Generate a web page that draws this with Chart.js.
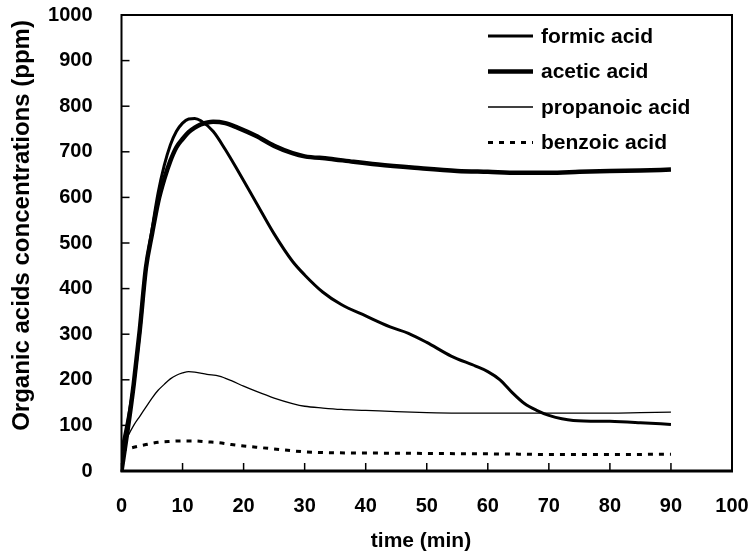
<!DOCTYPE html>
<html>
<head>
<meta charset="utf-8">
<script src="https://cdn.jsdelivr.net/npm/chart.js@4.4.1/dist/chart.umd.min.js"></script>
<style>
  html, body { margin: 0; padding: 0; background: #fff; }
</style>
</head>
<body>
<canvas id="chart" width="752" height="555"></canvas>
<script>
// ── Data (time in min, concentration in ppm) ────────────────────────────────
const formicTime   = [0, 1, 2, 3, 4, 5, 6, 7, 8, 9, 10, 11, 12, 13, 15, 17, 19, 22, 25, 28, 30, 33, 36, 40, 44, 47, 50, 54, 58, 60, 62, 64, 66, 68, 70, 74, 80, 85, 90];
const formicValues = [45, 110, 190, 305, 445, 530, 610, 670, 715, 745, 763, 772, 773, 768, 745, 705, 660, 590, 520, 460, 430, 392, 365, 340, 316, 302, 282, 252, 230, 218, 200, 172, 148, 133, 122, 111, 109, 106, 102];

const aceticTime   = [0, 1, 2, 3, 4, 5, 6, 7, 8, 9, 10, 11, 12, 13, 15, 17, 19, 22, 25, 28, 30, 34, 38, 42, 48, 55, 60, 65, 70, 75, 80, 85, 90];
const aceticValues = [0, 90, 190, 310, 445, 520, 590, 640, 680, 710, 728, 743, 753, 760, 766, 763, 753, 735, 713, 697, 690, 685, 678, 672, 665, 658, 656, 654, 654, 656, 658, 659, 661];

const propTime     = [0, 1, 2, 3, 4, 5, 6, 7, 8, 9, 10, 11, 12, 14, 16, 18, 20, 22, 25, 28, 30, 33, 36, 40, 45, 50, 55, 60, 70, 80, 85, 90];
const propValues   = [45, 75, 100, 120, 140, 160, 177, 190, 202, 210, 215, 218, 217, 212, 208, 198, 186, 175, 160, 148, 142, 138, 135, 133, 130, 128, 127, 127, 127, 127, 128, 129];

const benzTime     = [0, 2, 4, 6, 8, 10, 12, 14, 16, 18, 20, 23, 26, 30, 35, 45, 55, 65, 70, 80, 90];
const benzValues   = [45, 52, 58, 63, 65, 66, 66, 64, 62, 58, 55, 51, 47, 42, 40, 39, 38, 37, 36, 36, 37];

const seriesLabels = ['formic acid', 'acetic acid', 'propanoic acid', 'benzoic acid'];
const xTicks = [0, 10, 20, 30, 40, 50, 60, 70, 80, 90, 100];
const yTicks = [0, 100, 200, 300, 400, 500, 600, 700, 800, 900, 1000];

const FONT = '"Liberation Sans", Arial, Helvetica, sans-serif';

const toPoints = (xs, ys) => xs.map((x, i) => ({ x, y: ys[i] }));

// ── Frame, inside tick marks, legend and axis titles ─────────────────────────
const decorPlugin = {
  id: 'decor',
  afterDraw(chart) {
    const { ctx, chartArea: a, scales } = chart;
    ctx.save();
    ctx.strokeStyle = '#000';
    ctx.lineCap = 'butt';

    // inside tick marks
    ctx.lineWidth = 1.5;
    xTicks.forEach(v => {
      const px = scales.x.getPixelForValue(v);
      ctx.beginPath(); ctx.moveTo(px, a.bottom); ctx.lineTo(px, a.bottom - 8); ctx.stroke();
    });
    yTicks.forEach(v => {
      const py = scales.y.getPixelForValue(v);
      ctx.beginPath(); ctx.moveTo(a.left, py); ctx.lineTo(a.left + 8, py); ctx.stroke();
    });

    // frame
    ctx.lineWidth = 2;
    ctx.strokeRect(a.left, a.top, a.right - a.left, a.bottom - a.top);
    ctx.lineWidth = 3;
    ctx.beginPath(); ctx.moveTo(a.left - 1, a.bottom); ctx.lineTo(a.right + 1, a.bottom); ctx.stroke();

    // legend, inside the plot at top right
    ctx.font = 'bold 21px ' + FONT;
    ctx.fillStyle = '#000';
    ctx.textBaseline = 'middle';
    ctx.textAlign = 'left';
    chart.data.datasets.forEach((ds, i) => {
      const y = 36 + i * 35.5;
      ctx.lineWidth = ds.borderWidth;
      ctx.setLineDash(ds.borderDash || []);
      ctx.beginPath(); ctx.moveTo(488, y); ctx.lineTo(533, y); ctx.stroke();
      ctx.setLineDash([]);
      ctx.fillText(ds.label, 541, y + 1);
    });

    // axis titles
    ctx.font = 'bold 21px ' + FONT;
    ctx.textAlign = 'center';
    ctx.fillText('time (min)', 421, 541);

    ctx.translate(22.5, 225.5);
    ctx.rotate(-Math.PI / 2);
    ctx.font = 'bold 24px ' + FONT;
    ctx.fillText('Organic acids concentrations (ppm)', 0, 0);
    ctx.restore();
  }
};

// ── Chart ────────────────────────────────────────────────────────────────────
new Chart(document.getElementById('chart'), {
  type: 'line',
  data: {
    datasets: [
      { label: seriesLabels[0], data: toPoints(formicTime, formicValues), borderWidth: 3 },
      { label: seriesLabels[1], data: toPoints(aceticTime, aceticValues), borderWidth: 4.5 },
      { label: seriesLabels[2], data: toPoints(propTime, propValues), borderWidth: 1.3 },
      { label: seriesLabels[3], data: toPoints(benzTime, benzValues), borderWidth: 3, borderDash: [5, 6] }
    ].map(ds => Object.assign({
      borderColor: '#000',
      backgroundColor: '#000',
      pointRadius: 0,
      tension: 0.3,
      cubicInterpolationMode: 'monotone',
      fill: false
    }, ds))
  },
  options: {
    responsive: false,
    animation: false,
    layout: { padding: { left: 0, right: 20, top: 15, bottom: 0 } },
    plugins: { legend: { display: false }, tooltip: { enabled: false } },
    scales: {
      x: {
        type: 'linear', min: 0, max: 100,
        afterBuildTicks: s => { s.ticks = xTicks.map(v => ({ value: v })); },
        afterFit: s => { s.height = 84; s.paddingLeft = 0; s.paddingRight = 0; },
        grid: { display: false, drawTicks: false },
        border: { display: false },
        ticks: { color: '#000', padding: 23, callback: v => String(v), font: { family: FONT, size: 20, weight: 'bold' } }
      },
      y: {
        type: 'linear', min: 0, max: 1000,
        afterBuildTicks: s => { s.ticks = yTicks.map(v => ({ value: v })); },
        afterFit: s => { s.width = 121.5; s.paddingTop = 0; s.paddingBottom = 0; },
        grid: { display: false, drawTicks: false },
        border: { display: false },
        ticks: { color: '#000', padding: 29, callback: v => String(v), font: { family: FONT, size: 20, weight: 'bold' } }
      }
    }
  },
  plugins: [decorPlugin]
});
</script>
</body>
</html>
